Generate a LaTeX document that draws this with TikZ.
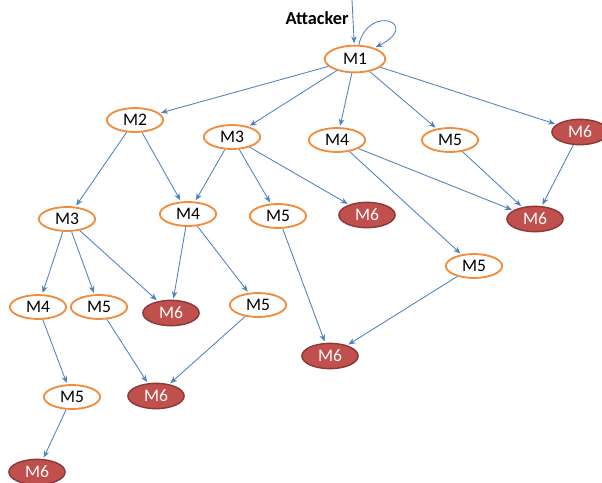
\documentclass[tikz,border=0pt]{standalone}
\usepackage{fontspec}
\setmainfont{Carlito}
\usetikzlibrary{shapes.geometric, arrows.meta}

\definecolor{stepor}{RGB}{240,140,60}
\definecolor{hitred}{RGB}{192,80,77}
\definecolor{hitdark}{RGB}{140,56,54}
\definecolor{edgeblue}{RGB}{79,129,189}

\begin{document}
\begin{tikzpicture}[x=0.025cm, y=-0.025cm]
	\tikzstyle{state} = [ellipse, inner sep = 0pt, minimum width = 40pt, minimum height = 17pt, line width = 1.3pt, draw=stepor, fill=white, font=\fontsize{12.5}{12.5}\selectfont]
	\tikzstyle{goal} = [ellipse, minimum width = 40pt, minimum height = 18pt, inner sep = 0pt, line width = 1pt, draw=hitdark, fill=hitred, text=white, font=\fontsize{12.5}{12.5}\selectfont]
	\tikzstyle{link} = [-{Stealth[length=5pt, width=4pt]}, line width = 0.6pt, draw=edgeblue, shorten >= 1pt]
	\useasboundingbox[fill=white] (0,0) rectangle (602,482);
	
	\node[font=\bfseries\fontsize{13}{13}\selectfont] at (317, 18) (att) {Attacker};
	\coordinate (entry) at (352, 0);
	\node[state, minimum width = 43pt, minimum height = 19pt] at (355, 59) (m1) {M1};
	
	\node[state] at (135, 120) (m2) {M2};
	\node[state] at (232, 137) (m3a) {M3};
	\node[state] at (337, 140) (m4a) {M4};
	\node[state] at (450, 140) (m5a) {M5};
	\node[goal] at (580, 132) (m6a) {M6};
	
	\node[state] at (67, 219) (m3b) {M3};
	\node[state] at (188, 214) (m4b) {M4};
	\node[state] at (278, 216) (m5b) {M5};
	\node[goal] at (367, 215) (m6b) {M6};
	\node[goal] at (535, 219) (m6c) {M6};
	\node[state] at (474, 266) (m5c) {M5};
	
	\node[state] at (38, 307) (m4c) {M4};
	\node[state] at (99, 307) (m5d) {M5};
	\node[goal] at (171, 313) (m6d) {M6};
	\node[state] at (258, 305) (m5e) {M5};
	\node[goal] at (330, 356) (m6e) {M6};
	
	\node[state] at (72, 397) (m5f) {M5};
	\node[goal] at (156, 396) (m6f) {M6};
	\node[goal] at (37, 472) (m6g) {M6};
	
	\draw[link] (entry) -- (m1);
	\draw[link] (m1.75) .. controls +(10,-42) and +(48,-24) .. (m1.30);
	
	\draw[link] (m1) -- (m2);
	\draw[link] (m1) -- (m3a);
	\draw[link] (m1) -- (m4a);
	\draw[link] (m1) -- (m5a);
	\draw[link] (m1) -- (m6a);
	
	\draw[link] (m2) -- (m3b);
	\draw[link] (m2) -- (m4b);
	\draw[link] (m3a) -- (m4b);
	\draw[link] (m3a) -- (m5b);
	\draw[link] (m3a) -- (m6b);
	\draw[link] (m4a) -- (m6c);
	\draw[link] (m4a) -- (m5c);
	\draw[link] (m5a) -- (m6c);
	\draw[link] (m6a) -- (m6c);
	
	\draw[link] (m3b) -- (m4c);
	\draw[link] (m3b) -- (m5d);
	\draw[link] (m3b) -- (m6d);
	\draw[link] (m4b) -- (m6d);
	\draw[link] (m4b) -- (m5e);
	\draw[link] (m5b) -- (m6e);
	\draw[link] (m5c) -- (m6e);
	
	\draw[link] (m4c) -- (m5f);
	\draw[link] (m5d) -- (m6f);
	\draw[link] (m5e) -- (m6f);
	\draw[link] (m5f) -- (m6g);
\end{tikzpicture}
\end{document}
